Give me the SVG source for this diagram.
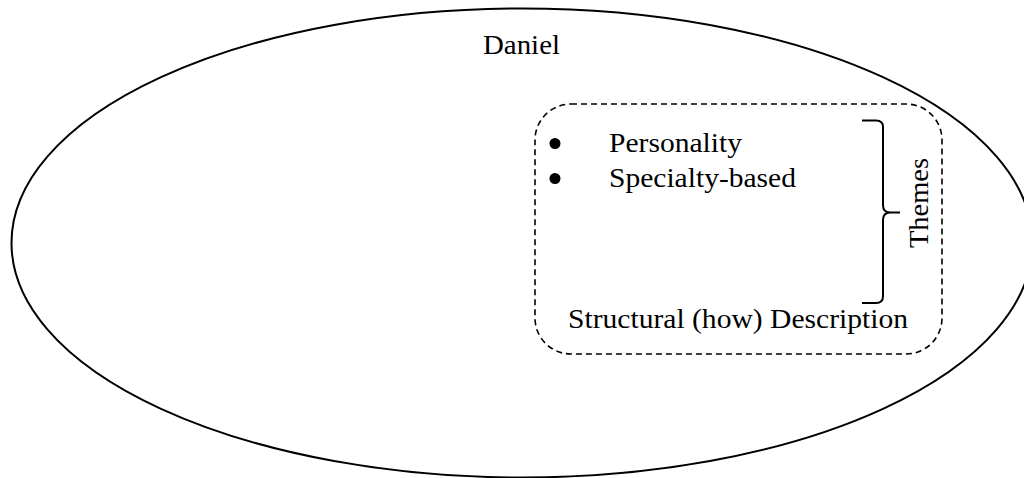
<svg xmlns="http://www.w3.org/2000/svg" width="1024" height="478" viewBox="0 0 1024 478">
  <style>
    .lbl { font-family: "Liberation Serif", "Times New Roman", serif; font-size: 27px; fill: #000; }
    .outline { fill: none; stroke: #000; stroke-width: 2; }
    .dashed { fill: none; stroke: #000; stroke-width: 1.6; stroke-dasharray: 6 4; }
    .brace { fill: none; stroke: #000; stroke-width: 2; stroke-linejoin: round; }
  </style>
  <rect width="1024" height="478" fill="#fff"/>

  <!-- outer participant ellipse -->
  <g id="daniel">
    <ellipse class="outline" cx="522" cy="243" rx="510.5" ry="234.5"/>
    <text class="lbl" x="483" y="54" textLength="77" lengthAdjust="spacingAndGlyphs">Daniel</text>
  </g>

  <!-- structural description box -->
  <g id="structural-description">
    <rect class="dashed" x="535" y="104" width="407" height="250" rx="36" ry="36"/>
    <circle cx="555" cy="143.5" r="5.5" fill="#000"/>
    <circle cx="555" cy="178.5" r="5.5" fill="#000"/>
    <text class="lbl" x="609" y="152" textLength="133" lengthAdjust="spacingAndGlyphs">Personality</text>
    <text class="lbl" x="609" y="187" textLength="187" lengthAdjust="spacingAndGlyphs">Specialty-based</text>
    <text class="lbl" x="568" y="328" textLength="340" lengthAdjust="spacingAndGlyphs">Structural (how) Description</text>
  </g>

  <!-- themes bracket -->
  <g id="themes">
    <path class="brace" d="M862,120.5 L876,120.5 Q883,120.5 883,127 L883,205 Q883,212.5 890,212.5 L900,212.5 M890,212.5 Q883,212.5 883,220 L883,296 Q883,303 876,303 L862,303"/>
    <text class="lbl" transform="translate(928,203) rotate(-90)" x="0" y="0" text-anchor="middle" textLength="90" lengthAdjust="spacingAndGlyphs">Themes</text>
  </g>
</svg>
